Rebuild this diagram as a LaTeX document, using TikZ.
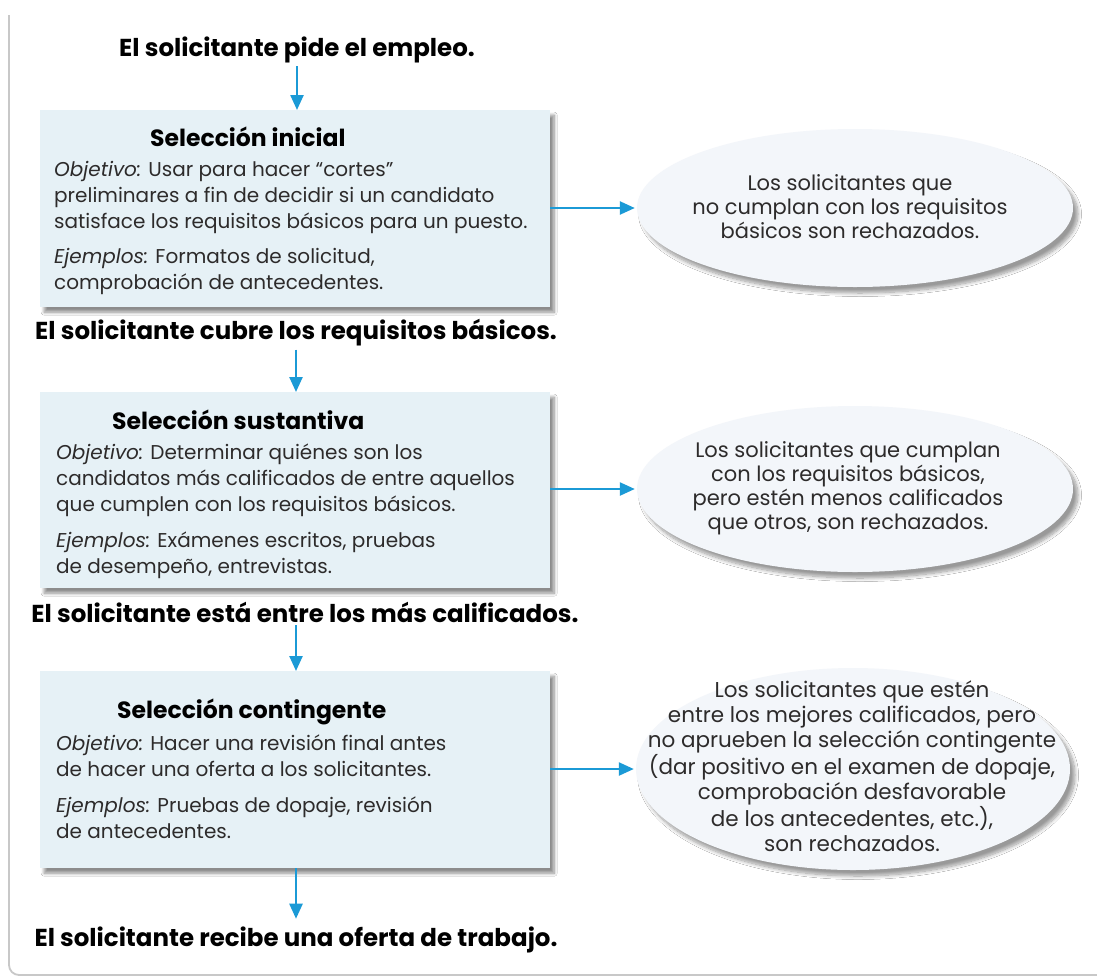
\documentclass[tikz,border=0pt]{standalone}
\usepackage{fontspec}
\setmainfont{Poppins}
\usetikzlibrary{arrows.meta,shapes.geometric,shadows.blur}
\definecolor{arrowblue}{RGB}{27,154,214}
\definecolor{boxfill}{RGB}{230,241,246}
\definecolor{ellfill}{RGB}{243,246,250}
\definecolor{framegray}{RGB}{200,200,200}
\definecolor{txt}{RGB}{45,43,43}
\begin{document}
\begin{tikzpicture}[x=1pt,y=-1pt,
  arr/.style={draw=arrowblue, line width=2.4pt, -{Triangle[length=15pt,width=13pt]}},
  stagebox/.style={fill=boxfill, draw=none, minimum width=510pt, minimum height=197pt,
    anchor=north west, inner sep=0pt,
    blur shadow={shadow xshift=4pt, shadow yshift=-5pt, shadow blur radius=3pt, shadow blur steps=10, shadow opacity=45}},
  outcome/.style={ellipse, fill=ellfill, draw=none, inner sep=0pt,
    blur shadow={shadow xshift=5pt, shadow yshift=-6pt, shadow blur radius=3.5pt, shadow blur steps=10, shadow opacity=40}},
  steptext/.style={font=\bfseries\fontsize{24.5}{28}\selectfont, text=black, inner sep=0pt},
  boxtitle/.style={font=\bfseries\fontsize{23.5}{28}\selectfont, text=black, inner sep=0pt, anchor=west},
  boxbody/.style={font=\fontsize{20}{26}\selectfont, text=txt, inner sep=0pt, align=left, anchor=north west},
  outtext/.style={font=\fontsize{21}{24}\selectfont, text=txt, inner sep=0pt, align=center}
]
\useasboundingbox (0,0) rectangle (1097,978);
\fill[white] (0,0) rectangle (1097,978);
\draw[framegray, line width=1.8pt, rounded corners=10pt] (9,15) -- (9,975) -- (1100,975);

% stage texts
\node[steptext] (s1) at (297,50) {El solicitante pide el empleo.};
\node[steptext] (s2) at (296,333) {El solicitante cubre los requisitos básicos.};
\node[steptext] (s3) at (305,612) {El solicitante está entre los más calificados.};
\node[steptext] (s4) at (296,940) {El solicitante recibe una oferta de trabajo.};

% boxes
\node[stagebox] (b1) at (40,110) {};
\node[stagebox, minimum height=196pt] (b2) at (40,392) {};
\node[stagebox] (b3) at (40,671) {};

\node[boxtitle] (b1t) at (150,137) {Selección inicial};
\node[boxbody] (b1b) at (54,161) {\textit{Objetivo:} Usar para hacer “cortes”\\
preliminares a fin de decidir si un candidato\\
satisface los requisitos básicos para un puesto.\\[9pt]
\textit{Ejemplos:} Formatos de solicitud,\\
comprobación de antecedentes.};

\node[boxtitle] (b2t) at (112,420) {Selección sustantiva};
\node[boxbody] (b2b) at (56,444) {\textit{Objetivo:} Determinar quiénes son los\\
candidatos más calificados de entre aquellos\\
que cumplen con los requisitos básicos.\\[10pt]
\textit{Ejemplos:} Exámenes escritos, pruebas\\
de desempeño, entrevistas.};

\node[boxtitle] (b3t) at (117,712) {Selección contingente};
\node[boxbody] (b3b) at (56,735) {\textit{Objetivo:} Hacer una revisión final antes\\
de hacer una oferta a los solicitantes.\\[10pt]
\textit{Ejemplos:} Pruebas de dopaje, revisión\\
de antecedentes.};

% ellipses
\node[outcome, minimum width=436pt, minimum height=158pt] (e1) at (855,208) {};
\node[outcome, minimum width=436pt, minimum height=166pt] (e2) at (855,489) {};
\node[outcome, minimum width=434pt, minimum height=202pt] (e3) at (853,769) {};

\node[outtext] (e1t) at (850,207) {Los solicitantes que\\ no cumplan con los requisitos\\ básicos son rechazados.};
\node[outtext] (e2t) at (848,488) {Los solicitantes que cumplan\\ con los requisitos básicos,\\ pero estén menos calificados\\ que otros, son rechazados.};
\node[outtext, font=\fontsize{21.5}{25}\selectfont] (e3t) at (852,766) {Los solicitantes que estén\\ entre los mejores calificados, pero\\ no aprueben la selección contingente\\ (dar positivo en el examen de dopaje,\\ comprobación desfavorable\\ de los antecedentes, etc.),\\ son rechazados.};

% connectors
\draw[arr, shorten <=3pt] (s1.south) -- (s1.south |- b1.north);
\draw[arr, shorten <=3pt] (s2.south) -- (s2.south |- b2.north);
\draw[arr, shorten <=3pt] (s3.south -| s2.south) -- (s2.south |- b3.north);
\draw[arr, shorten >=8pt] (b3.south -| s2.south) -- (s2.south |- s4.north);
\draw[arr, shorten >=2pt] (b1.east |- e1.west) -- (e1.west);
\draw[arr, shorten >=2pt] (b2.east |- e2.west) -- (e2.west);
\draw[arr, shorten >=2pt] (b3.east |- e3.west) -- (e3.west);
\end{tikzpicture}
\end{document}
